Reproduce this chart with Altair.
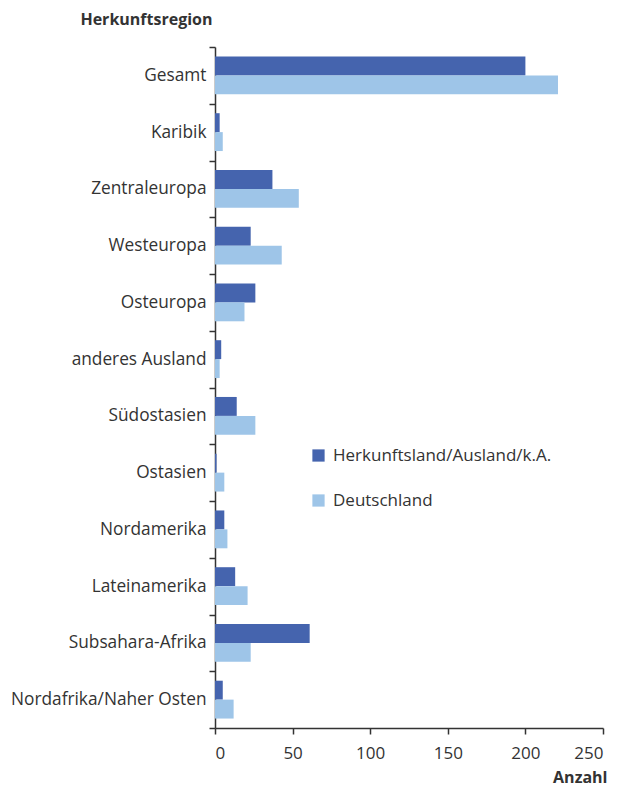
import altair as alt
import pandas as pd

regions = ["Gesamt", "Karibik", "Zentraleuropa", "Westeuropa", "Osteuropa",
           "anderes Ausland", "Südostasien", "Ostasien", "Nordamerika",
           "Lateinamerika", "Subsahara-Afrika", "Nordafrika/Naher Osten"]
series = ["Herkunftsland/Ausland/k.A.", "Deutschland"]
herkunft = [200, 3, 37, 23, 26, 4, 14, 1, 6, 13, 61, 5]
deutschland = [221, 5, 54, 43, 19, 3, 26, 6, 8, 21, 23, 12]
x_ticks = [0, 50, 100, 150, 200, 250]
colors = ["#4564ae", "#9ec5e8"]

rows = []
for r, a, b in zip(regions, herkunft, deutschland):
    rows.append({"region": r, "serie": series[0], "wert": a})
    rows.append({"region": r, "serie": series[1], "wert": b})
df = pd.DataFrame(rows)

FONT = "Open Sans"

chart = alt.Chart(df).mark_bar().encode(
    x=alt.X("wert:Q",
            scale=alt.Scale(domain=[0, 250], nice=False),
            axis=alt.Axis(values=x_ticks, title="Anzahl", grid=False,
                          domainColor="#333333", domainWidth=1.5,
                          tickColor="#333333", tickWidth=1.5, tickSize=6,
                          labelFontSize=17, labelColor="#333333", labelPadding=11,
                          labelFont=FONT,
                          titleFont=FONT, titleFontSize=16, titleFontWeight="bold",
                          titleColor="#333333", titleAnchor="end", titleAlign="right",
                          titleX=392, titleY=49, titleBaseline="middle")),
    y=alt.Y("region:N", sort=regions,
            scale=alt.Scale(paddingInner=0, paddingOuter=0),
            axis=alt.Axis(title="Herkunftsregion", grid=False, tickBand="extent",
                          domainColor="#333333", domainWidth=1.5,
                          tickColor="#333333", tickWidth=1.5, tickSize=6,
                          labelFontSize=17.3, labelColor="#333333", labelPadding=3,
                          labelFont=FONT, labelLimit=300,
                          titleFont=FONT, titleFontSize=16, titleFontWeight="bold",
                          titleColor="#333333", titleAngle=0, titleAlign="right",
                          titleX=-3, titleY=-28, titleBaseline="middle")),
    yOffset=alt.YOffset("serie:N", sort=series,
                        scale=alt.Scale(paddingInner=0, paddingOuter=0.5)),
    color=alt.Color("serie:N", sort=series,
                    scale=alt.Scale(domain=series, range=colors),
                    legend=alt.Legend(title=None, orient="none", legendX=95, legendY=400,
                                      symbolType="square", symbolSize=150,
                                      symbolStrokeWidth=0, labelLimit=400,
                                      labelFont=FONT, labelFontSize=17,
                                      labelColor="#333333", rowPadding=27,
                                      labelOffset=6)),
).properties(
    width=388, height=681,
    autosize=alt.AutoSizeParams(type="none"),
    padding={"left": 207, "top": 39, "right": 8, "bottom": 60},
).configure_view(stroke=None)

chart.save("out.html", embed_options={"renderer": "svg", "actions": False})
